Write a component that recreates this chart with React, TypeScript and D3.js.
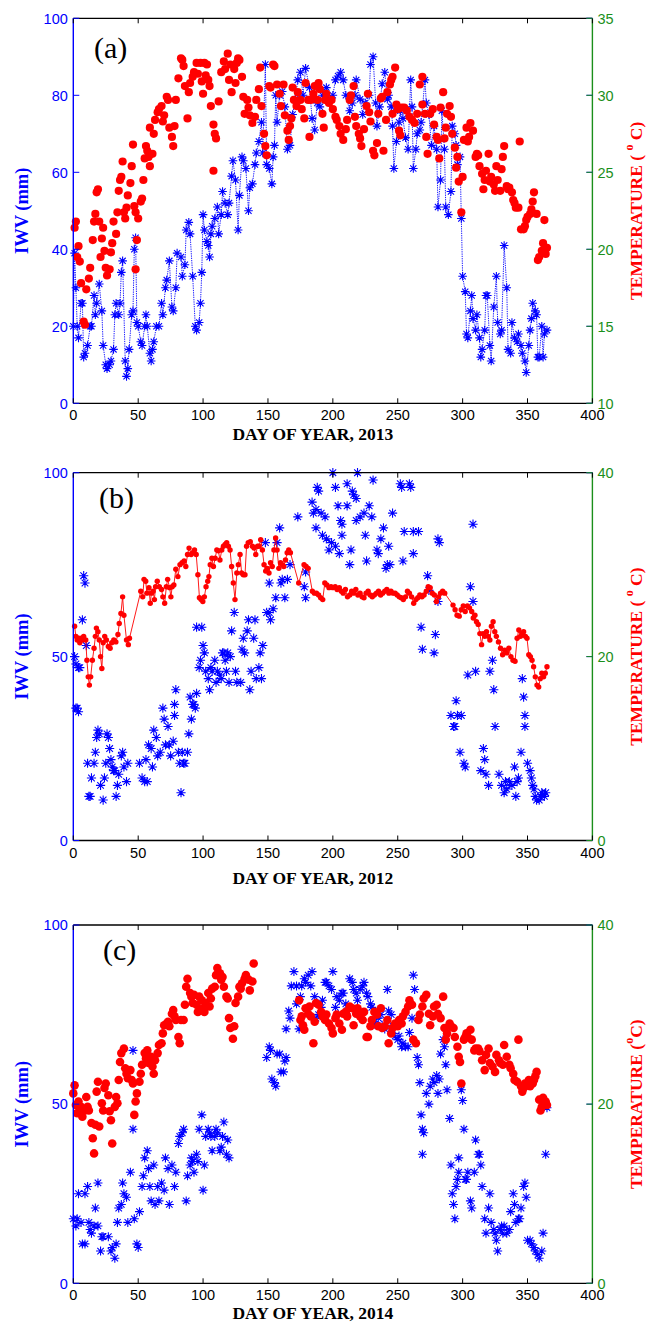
import React from 'react';
import * as d3 from 'd3';

type Pt = [number, number];

// x axis (day of year), shared by the three panels
const dayTicks = [0, 50, 100, 150, 200, 250, 300, 350, 400];

// panel (a) 2013 -- IWV (mm), day / value
const iwv2013: Pt[] = [
  [0,20],[1,39],[2,30],[3,20],[4,17],[6,26],[7,26],[8,12],[9,13],[11,15],[13,20],[14,20],[16,28],[17,23],[18,26],[20,31],
  [22,24],[23,15],[25,10],[26,9],[28,10],[29,11],[31,14],[32,23],[33,26],[35,23],[36,26],[37,34],[38,37],[40,11],[41,7],
  [42,9],[43,14],[45,23],[46,24],[47,40],[48,43],[49,21],[50,20],[52,16],[53,15],[55,20],[56,23],[57,20],[59,13],[60,11],
  [61,14],[62,16],[64,20],[66,20],[68,26],[69,23],[71,30],[72,32],[74,37],[76,25],[77,24],[79,30],[80,39],[83,38],[84,33],
  [86,36],[87,45],[89,47],[90,44],[92,33],[94,20],[95,19],[97,21],[98,26],[99,34],[100,49],[101,45],[103,42],[104,41],
  [105,38],[106,44],[107,46],[109,48],[111,51],[112,44],[114,49],[115,55],[117,52],[119,49],[120,52],[122,59],[123,63],
  [125,58],[127,45],[128,54],[130,64],[131,63],[133,61],[135,50],[136,56],[138,57],[140,62],[141,65],[143,68],[145,73],
  [146,65],[148,88],[149,62],[151,61],[153,57],[154,64],[155,67],[156,80],[157,73],[159,80],[161,81],[163,77],[165,66],
  [167,67],[169,75],[171,79],[173,84],[175,86],[177,80],[179,87],[182,82],[184,74],[186,71],[188,78],[190,77],[192,80],
  [195,82],[198,79],[200,80],[202,84],[204,85],[206,86],[208,84],[210,80],[213,76],[215,78],[217,80],[218,84],[221,79],
  [223,75],[225,78],[228,80],[229,88],[231,90],[233,78],[234,72],[236,77],[238,83],[240,86],[242,79],[243,80],[245,77],
  [246,72],[247,61],[249,68],[251,73],[252,76],[254,74],[256,69],[258,66],[260,84],[261,77],[262,61],[264,66],[265,70],
  [267,71],[268,73],[271,84],[272,78],[274,75],[276,67],[278,72],[280,66],[281,51],[283,58],[284,76],[286,66],[287,51],
  [289,49],[291,55],[292,72],[294,70],[295,67],[296,62],[298,64],[299,48],[300,33],[302,29],[303,18],[304,17],[306,24],
  [307,28],[308,22],[310,19],[311,23],[313,17],[314,12],[315,14],[317,19],[318,28],[319,28],[321,15],[322,11],[324,25],
  [326,33],[327,21],[329,18],[330,19],[332,41],[334,30],[335,14],[337,13],[338,21],[340,17],[342,16],[343,18],[345,15],
  [346,13],[348,11],[349,8],[351,15],[352,19],[353,22],[354,26],[356,24],[357,23],[358,12],[359,12],[361,20],[362,12],
  [363,18],[365,19],
];

// panel (a) 2013 -- temperature (deg C)
const temp2013: Pt[] = [
  [1,21.4],[2,21.8],[3,19.5],[4,20.2],[5,19.2],[6,17.8],[8,15.3],[9,15.1],[10,17.4],[12,18.1],[13,18.8],[15,20.6],[16,21.8],
  [17,22.3],[18,23.7],[19,23.9],[20,21.8],[21,19.5],[22,20.7],[23,21.4],[24,19.9],[25,18.8],[26,18.3],[28,18.7],[29,19.8],
  [30,20.4],[31,21.8],[33,21.0],[34,22.4],[35,23.8],[36,24.5],[37,24.7],[38,25.7],[39,22.4],[40,22.0],[41,22.7],[42,23.5],
  [44,24.3],[45,25.4],[46,26.8],[47,22.8],[48,22.4],[49,20.6],[48,18.7],[50,22.0],[52,23.1],[53,23.3],[54,24.5],[55,25.9],
  [56,26.7],[57,26.4],[58,26.0],[59,25.4],[59,27.9],[61,26.2],[62,27.5],[63,28.4],[65,28.9],[66,29.1],[68,29.3],[69,28.3],
  [70,28.7],[72,29.9],[73,29.7],[74,27.9],[76,27.3],[77,26.7],[78,28.0],[79,29.7],[81,31.1],[83,32.4],[84,32.3],[85,31.9],
  [86,30.6],[88,28.5],[89,30.2],[90,30.8],[92,31.2],[93,31.5],[95,32.1],[96,31.4],[98,32.1],[99,30.9],[100,30.1],[101,32.1],
  [102,31.3],[103,32.0],[104,31.0],[105,30.6],[106,29.3],[108,28.1],[109,27.5],[110,27.2],[108,25.1],[112,29.6],[114,31.5],
  [116,32.2],[117,31.7],[119,32.7],[120,31.0],[121,32.0],[122,30.2],[124,31.7],[125,30.8],[126,32.1],[127,32.4],[128,32.3],
  [130,31.2],[131,29.9],[132,28.8],[134,29.7],[135,29.2],[136,28.7],[138,28.2],[140,28.6],[141,29.7],[143,30.4],[144,31.8],
  [145,29.3],[147,27.5],[148,26.7],[149,26.1],[151,30.6],[152,30.5],[154,32.0],[155,31.9],[157,30.7],[159,30.1],[160,29.3],
  [162,30.7],[163,28.7],[165,27.7],[166,27.1],[167,28.0],[168,28.5],[169,30.5],[170,29.7],[172,29.3],[173,30.2],[175,29.7],
  [176,29.1],[178,28.5],[179,30.8],[181,29.7],[182,27.3],[183,29.7],[185,30.1],[186,30.6],[188,29.7],[189,30.8],[190,30.4],
  [192,28.8],[193,27.9],[194,29.7],[195,30.1],[197,29.5],[199,29.7],[200,29.1],[202,28.6],[203,28.4],[205,28.0],[206,27.5],
  [208,27.1],[210,27.8],[211,28.4],[213,29.7],[214,30.0],[216,30.6],[217,28.6],[218,28.0],[220,27.5],[221,27.2],[222,26.7],
  [224,27.8],[226,29.3],[227,30.1],[228,28.9],[229,28.3],[231,26.4],[232,26.1],[234,26.9],[235,28.8],[237,29.8],[238,29.9],
  [239,26.4],[241,28.4],[242,30.2],[244,30.7],[245,31.0],[246,31.2],[246,28.8],[248,31.8],[249,29.4],[250,29.1],[251,27.7],
  [252,27.4],[253,29.2],[255,29.2],[257,29.0],[259,28.6],[261,28.4],[263,28.2],[265,28.8],[267,30.7],[269,31.2],[269,29.4],
  [271,28.8],[272,27.3],[273,26.2],[275,28.8],[277,29.1],[278,28.1],[280,27.3],[281,27.1],[282,25.9],[283,29.2],[285,30.2],
  [286,27.2],[287,27.9],[288,28.8],[290,29.3],[291,28.6],[292,27.5],[294,26.6],[295,25.3],[296,26.0],[297,24.4],[299,22.4],
  [300,24.7],[301,27.1],[303,27.9],[304,27.0],[305,27.3],[306,28.2],[308,27.7],[310,26.0],[311,26.2],[312,26.1],[313,25.4],
  [315,24.9],[316,23.9],[317,24.5],[318,25.1],[320,26.2],[321,24.4],[322,24.7],[324,24.2],[325,23.8],[326,25.4],[327,24.5],
  [329,23.8],[330,25.2],[331,26.0],[332,26.7],[334,24.1],[335,23.9],[336,24.0],[338,23.7],[339,23.2],[340,23.0],[341,22.7],
  [343,22.7],[344,27.0],[345,21.3],[347,21.3],[348,21.5],[349,21.9],[350,22.1],[352,22.3],[353,22.6],[354,23.1],[355,23.7],
  [357,22.3],[358,19.3],[359,19.5],[361,19.9],[362,20.4],[363,21.9],[364,19.7],[365,20.1],
];

// panel (b) 2012 -- IWV (mm)
const iwv2012: Pt[] = [
  [1,50],[2,48],[4,47],[5,47],[2,36],[3,36],[4,35],[7,60],[8,72],[9,70],[10,53],[11,21],[12,12],[13,12],[14,17],[16,21],
  [17,24],[18,28],[19,30],[20,29],[21,15],[23,11],[24,17],[25,21],[26,29],[27,28],[28,25],[29,22],[30,20],[31,19],[32,19],
  [33,12],[34,15],[35,18],[37,23],[38,24],[39,20],[41,16],[42,21],[51,21],[53,17],[55,16],[56,22],[57,16],[58,26],[60,25],
  [61,20],[62,30],[64,28],[65,23],[67,24],[69,36],[70,33],[71,26],[73,31],[74,26],[75,23],[77,27],[78,37],[78,34],[79,41],
  [81,24],[82,21],[83,13],[84,24],[85,21],[86,21],[88,24],[89,29],[90,39],[91,33],[92,37],[93,37],[94,36],[95,40],[95,58],
  [99,58],[97,47],[98,49],[100,53],[101,51],[102,46],[104,44],[105,41],[106,47],[107,46],[109,49],[110,43],[111,46],[113,45],
  [114,44],[115,51],[116,51],[117,49],[118,46],[119,51],[120,43],[121,50],[122,57],[124,62],[125,46],[126,43],[129,43],
  [130,52],[131,55],[132,51],[134,57],[135,60],[136,41],[137,46],[139,55],[140,60],[141,44],[143,47],[144,51],[145,44],
  [146,53],[148,81],[149,62],[151,62],[152,60],[154,63],[151,70],[156,66],[157,81],[159,85],[160,70],[161,71],[163,66],
  [165,71],[167,75],[173,88],[178,69],[179,66],[179,73],[184,92],[185,89],[187,90],[187,85],[188,96],[189,95],[191,89],
  [192,83],[194,88],[195,82],[197,79],[199,81],[200,100],[202,96],[202,80],[204,91],[205,78],[206,87],[207,86],[207,83],
  [211,97],[211,91],[213,75],[214,79],[215,95],[216,94],[218,93],[218,87],[219,100],[221,88],[224,89],[225,83],[226,76],
  [228,91],[230,88],[231,98],[234,79],[235,78],[237,82],[239,85],[241,74],[242,75],[243,80],[244,75],[246,89],[252,97],
  [253,96],[254,76],[255,84],[259,97],[260,96],[262,78],[262,84],[266,84],[268,58],[269,52],[273,72],[274,68],[279,56],
  [278,51],[281,82],[282,81],[281,65],[291,34],[293,31],[294,31],[295,38],[296,34],[298,24],[299,34],[301,21],[302,20],
  [304,45],[306,69],[308,65],[308,86],[310,46],[314,19],[316,25],[317,22],[318,18],[320,15],[321,46],[323,49],[324,41],
  [325,31],[328,18],[330,15],[332,13],[333,16],[334,14],[336,16],[338,15],[340,20],[341,12],[342,16],[343,17],[345,24],
  [346,44],[347,39],[348,34],[348,31],[350,21],[352,19],[353,17],[354,15],[355,14],[356,12],[357,11],[359,11],[360,12],
  [361,13],[363,12],[364,13],
];

// panel (b) 2012 -- temperature (deg C), joined by a line
const temp2012: Pt[] = [
  [1,23.3],[2,22.2],[3,21.8],[4,22.0],[5,21.5],[6,22.0],[7,21.8],[8,22.2],[9.6,21.8],[10.5,19.6],[11.5,17.8],[12.4,16.9],
  [13.4,17.8],[14.7,19.6],[16,20.9],[17,22.2],[17.8,23.1],[19,22.7],[20,21.8],[21,20.0],[22,18.7],[23,21.5],[24.2,22.2],
  [25.5,21.8],[27,21.1],[28.4,20.9],[29.6,21.5],[31.2,21.8],[32.8,21.6],[34.4,22.4],[35.4,23.6],[36.7,24.7],[38,26.5],
  [39,24.5],[41,21.8],[42.4,21.3],[43.3,22.0],[52,27.1],[53.5,26.5],[54.5,28.4],[55.8,28.2],[56.7,26.9],[58.3,27.5],
  [59.3,25.8],[60.2,26.9],[61.5,27.1],[62.5,26.2],[63.4,27.6],[64.7,28.2],[66.3,27.6],[68,27.3],[69,26.5],[70.4,25.8],
  [71.7,27.6],[72.7,28.4],[74.2,27.5],[75.2,26.5],[76.2,27.6],[77.5,27.8],[79,29.5],[80.6,28.7],[82.2,30.0],[83.8,30.2],
  [85.4,30.4],[86.7,29.8],[88,31.1],[89.2,31.8],[90.8,31.1],[92,31.3],[93.4,31.6],[94.7,31.1],[96,28.9],[97.2,26.4],
  [98.5,26.2],[99.8,26.0],[101,26.5],[102.3,27.6],[103.6,28.2],[104.5,28.7],[105.5,30.0],[106.8,30.7],[108,29.8],
  [109.3,30.7],[110.6,31.6],[111.8,31.5],[113,30.5],[114.4,31.6],[115.7,32.0],[117,32.2],[118.2,32.4],[119.5,32.0],
  [120.8,31.6],[122,29.8],[123.3,28.0],[124.6,26.2],[126,29.1],[127.2,30.0],[128.5,31.1],[129.7,29.1],[131,28.9],
  [132.3,28.9],[133.5,32.0],[134.8,32.4],[136.4,32.5],[138,32.0],[139.3,31.8],[140.6,31.1],[142,32.0],[143,32.0],
  [144.4,32.7],[145.7,31.6],[147,30.0],[148.2,29.3],[149.5,29.6],[150.8,29.1],[152,30.2],[153.3,29.8],[154.6,31.6],
  [155.9,32.9],[157,31.6],[158.4,29.6],[159.7,30.2],[161,30.0],[162.2,29.8],[163.5,30.5],[164.8,31.3],[166,31.6],
  [167.3,31.3],[173.7,28.0],[177.8,30.0],[179.4,29.8],[181,29.6],[184.2,27.1],[185.8,26.9],[187.4,26.9],[189,26.7],
  [190.6,26.4],[192.2,26.2],[193.8,28.0],[195.4,27.8],[197,27.5],[198.6,27.6],[200,27.5],[201.8,27.6],[203.3,27.3],
  [205,27.5],[206.5,27.1],[208,26.9],[209.7,27.3],[211.3,26.5],[213,26.7],[214.5,27.1],[216,26.9],[217.7,27.3],
  [219.3,26.7],[221,26.9],[222.5,26.5],[224,26.4],[225.6,26.9],[227.2,27.1],[228.8,26.7],[230.4,26.5],[232,26.7],
  [233.6,26.9],[235.2,27.1],[236.8,26.7],[238.4,26.9],[240,27.1],[241.6,27.3],[243.2,26.9],[244.8,27.1],[246.4,26.9],
  [248,26.9],[249.6,26.7],[251.2,26.5],[252.7,26.4],[254.3,26.2],[256,26.5],[257.5,27.1],[259,26.9],[260.7,26.5],
  [262.3,25.8],[264,26.2],[265.5,26.4],[267,26.7],[268.7,26.5],[270.3,26.7],[272,27.1],[273.5,27.6],[275,27.5],
  [276.6,26.9],[278.2,26.7],[279.8,26.0],[281.4,26.5],[283,26.9],[284.6,27.1],[286.2,26.9],[292.6,25.6],[294.2,25.1],
  [295.7,24.5],[297.4,24.4],[298.9,25.1],[300.5,25.5],[302,24.9],[303.7,25.5],[305.3,25.3],[307,24.9],[308.2,24.2],
  [309.5,24.5],[310.7,23.8],[312,23.5],[313.3,22.5],[314.6,21.3],[315.8,22.5],[317,22.2],[318.4,22.7],[319.7,22.2],
  [321,21.8],[322.2,23.3],[323.5,23.8],[324.8,22.7],[326,22.2],[327.6,21.6],[329.2,20.9],[330.8,20.2],[332.4,20.7],
  [334,20.4],[335.6,20.9],[337.2,20.0],[338.8,19.6],[340.4,19.5],[342,22.0],[343.3,22.9],[344.6,22.2],[345.8,22.5],
  [347,22.7],[348.4,22.2],[349.6,22.0],[351,20.2],[352.2,20.0],[353.5,19.6],[354.7,18.9],[356,17.8],[357.3,16.9],
  [358.6,16.7],[359.8,17.6],[361,18.2],[362.4,17.8],[363.7,18.2],[365,18.9],
];

// panel (c) 2014 -- IWV (mm)
const iwv2014: Pt[] = [
  [0,18],[2,16],[3,18],[4,25],[6,17],[7,11],[9,11],[9,25],[11,27],[12,17],[13,15],[14,14],[16,16],[17,21],[19,28],[19,16],
  [21,9],[22,13],[23,13],[27,13],[29,9],[30,10],[32,7],[33,11],[34,17],[35,21],[37,22],[38,28],[39,25],[41,24],[42,17],
  [44,31],[46,43],[46,65],[47,18],[49,11],[50,10],[51,20],[53,27],[54,30],[55,35],[57,37],[58,32],[59,27],[60,23],[62,33],
  [63,22],[65,27],[66,23],[68,28],[70,26],[71,35],[73,32],[74,22],[76,33],[78,27],[79,31],[81,39],[82,41],[84,42],[85,43],
  [87,23],[88,30],[90,33],[91,35],[92,34],[93,31],[95,36],[96,34],[97,43],[99,47],[100,26],[101,33],[102,41],[104,43],
  [105,42],[106,41],[107,37],[109,41],[110,43],[111,42],[113,37],[114,38],[115,41],[116,45],[118,36],[119,40],[120,35],
  [149,63],[151,66],[152,65],[153,57],[155,56],[156,55],[157,64],[159,64],[160,59],[162,59],[163,62],[164,63],[164,71],
  [166,76],[167,74],[168,83],[170,87],[172,83],[172,78],[174,71],[175,80],[176,83],[178,85],[179,84],[181,86],[183,83],
  [184,87],[186,80],[187,74],[189,75],[191,77],[192,79],[194,84],[195,84],[197,83],[199,82],[200,87],[202,77],[203,80],
  [205,79],[207,81],[208,81],[210,78],[211,76],[213,85],[215,84],[216,82],[218,81],[219,79],[221,82],[223,83],[224,84],
  [226,81],[227,80],[229,78],[230,77],[232,73],[234,72],[235,74],[237,75],[238,72],[240,71],[242,82],[243,76],[245,75],
  [246,72],[248,69],[250,68],[251,69],[253,66],[254,67],[256,66],[258,66],[259,70],[261,74],[262,86],[263,82],[265,63],
  [266,61],[267,56],[268,47],[269,43],[270,42],[269,36],[272,53],[274,50],[275,55],[277,57],[278,56],[280,58],[281,53],
  [282,57],[283,64],[285,68],[286,66],[287,61],[288,54],[290,46],[291,33],[292,25],[293,22],[294,18],[295,27],[296,29],
  [297,31],[299,54],[300,51],[301,43],[297,35],[302,29],[303,29],[304,31],[306,23],[307,21],[309,31],[310,40],[312,36],
  [313,36],[314,33],[315,27],[317,18],[318,14],[320,21],[321,25],[322,17],[324,15],[325,14],[326,12],[327,9],[329,15],
  [330,16],[331,14],[332,16],[334,14],[336,15],[337,20],[339,25],[340,22],[341,17],[343,18],[344,18],[345,21],[347,27],
  [348,28],[349,24],[350,12],[352,12],[353,11],[355,10],[356,9],[358,8],[359,7],[361,9],[362,14],[364,36],[365,49],
];

// panel (c) 2014 -- temperature (deg C)
const temp2014: Pt[] = [
  [0,21.2],[1,22.1],[2,19.9],[3,19.0],[4,20.3],[5,19.0],[6,19.7],[7,18.6],[9,19.3],[10,20.8],[11,19.7],[12,19.3],[14,17.9],
  [15,16.2],[16,14.5],[17,17.7],[18,21.4],[19,22.5],[20,17.5],[22,20.1],[23,19.3],[24,21.8],[25,22.3],[27,21.0],[28,19.2],
  [29,18.2],[30,15.6],[32,19.7],[33,20.8],[34,20.1],[35,22.7],[36,24.7],[37,25.7],[39,26.2],[40,24.0],[41,23.4],[42,22.9],
  [44,23.8],[45,22.7],[46,22.3],[47,18.8],[48,20.3],[49,21.2],[51,22.5],[52,23.4],[53,24.4],[55,25.7],[56,25.1],[57,26.0],
  [58,24.6],[60,25.3],[61,24.2],[62,23.4],[63,24.9],[65,25.7],[66,26.6],[68,26.8],[69,27.9],[70,28.8],[72,29.0],[73,29.2],
  [74,28.7],[76,30.1],[77,30.5],[78,29.8],[79,29.4],[81,27.5],[82,26.8],[83,29.4],[85,29.4],[86,31.1],[87,33.1],[88,34.0],
  [90,32.4],[91,32.0],[92,31.3],[93,32.2],[95,31.1],[96,30.3],[97,32.0],[99,31.6],[100,30.7],[101,30.3],[102,31.3],
  [104,32.4],[105,30.9],[106,31.8],[107,32.9],[109,33.1],[110,34.4],[111,35.2],[113,34.6],[114,33.9],[115,34.2],[116,33.1],
  [118,32.0],[119,31.8],[120,29.6],[121,28.5],[123,27.3],[124,28.7],[125,31.3],[127,32.0],[128,33.1],[129,32.9],[130,33.5],
  [132,34.0],[133,34.4],[135,33.9],[136,32.7],[138,33.7],[139,35.7],[174,31.6],[175,29.4],[176,29.8],[177,28.8],[178,28.3],
  [179,30.7],[181,30.1],[182,30.9],[183,29.8],[185,26.8],[186,29.2],[187,31.3],[189,31.1],[191,30.3],[192,29.8],[194,29.4],
  [195,30.0],[197,29.0],[199,28.5],[200,27.9],[202,29.6],[203,30.0],[205,29.0],[207,28.3],[208,30.1],[210,30.3],[211,29.8],
  [213,30.9],[215,30.7],[216,28.8],[218,30.1],[219,30.7],[221,29.8],[223,29.4],[224,30.3],[226,27.5],[227,27.5],[229,28.7],
  [230,29.4],[232,30.3],[234,30.0],[235,28.7],[237,30.7],[238,28.5],[240,28.7],[242,29.4],[243,26.8],[245,27.9],[246,28.5],
  [248,29.0],[250,28.7],[251,29.4],[253,29.0],[254,29.8],[256,30.3],[258,30.9],[259,31.6],[261,31.1],[262,27.2],[264,26.8],
  [266,29.4],[267,30.0],[269,30.9],[270,31.8],[272,32.2],[274,30.1],[275,28.8],[277,29.8],[278,30.9],[280,31.1],[281,30.1],
  [283,29.6],[285,32.0],[286,28.5],[287,27.2],[288,27.9],[290,29.0],[291,28.7],[293,28.5],[294,27.5],[296,26.4],[297,25.3],
  [298,24.7],[299,22.3],[301,27.2],[302,27.5],[303,27.9],[304,27.5],[306,28.3],[307,27.2],[309,26.0],[310,26.2],[312,26.2],
  [313,25.9],[315,24.9],[317,23.8],[318,25.5],[320,26.2],[321,24.6],[323,24.2],[325,23.6],[326,25.5],[328,24.9],[329,24.6],
  [331,24.4],[332,26.6],[334,25.3],[336,24.4],[337,24.0],[339,23.4],[340,22.7],[342,22.5],[343,27.2],[345,22.0],[346,21.4],
  [347,21.8],[348,22.3],[350,22.1],[351,22.7],[352,22.0],[354,22.3],[355,22.7],[356,23.1],[357,23.6],[359,20.5],[360,19.3],
  [361,19.7],[362,20.7],[364,20.3],[365,19.9],
];

const iwvTicksA = [0, 20, 40, 60, 80, 100];
const tempTicksA = [10, 15, 20, 25, 30, 35];
const iwvTicksBC = [0, 50, 100];
const tempTicksBC = [0, 20, 40];

const BLUE = '#0000ff';
const RED = '#ff0000';
const GREEN = '#1b8f1b';
const SERIF = '"Liberation Serif", "Times New Roman", serif';
const SANS = '"Liberation Sans", Arial, sans-serif';

const X0 = 73.3;
const X1 = 592.4;

const panels = [
  {
    id: 'a', label: '(a)', year: '2013', top: 18.3, bottom: 403.3,
    iwv: iwv2013, temp: temp2013, iwvTicks: iwvTicksA, tempTicks: tempTicksA, tempDomain: [10, 35],
    iwvLine: true, tempLine: false, dotR: 4.1, starR: 4.3, labelX: 94, labelY: 58, titleY: 440, degSpace: true,
  },
  {
    id: 'b', label: '(b)', year: '2012', top: 472.7, bottom: 840.5,
    iwv: iwv2012, temp: temp2012, iwvTicks: iwvTicksBC, tempTicks: tempTicksBC, tempDomain: [0, 40],
    iwvLine: false, tempLine: true, dotR: 2.7, starR: 4.6, labelX: 99, labelY: 508, titleY: 884, degSpace: true,
  },
  {
    id: 'c', label: '(c)', year: '2014', top: 925, bottom: 1283.3,
    iwv: iwv2014, temp: temp2014, iwvTicks: iwvTicksBC, tempTicks: tempTicksBC, tempDomain: [0, 40],
    iwvLine: false, tempLine: false, dotR: 4.3, starR: 4.5, labelX: 103, labelY: 960, titleY: 1319, degSpace: false,
  },
];

// MATLAB style '*' marker
const star = (x: number, y: number, r: number) => {
  const d = r * 0.72;
  return `M${x - r},${y}H${x + r}M${x},${y - r}V${y + r}M${x - d},${y - d}L${x + d},${y + d}M${x - d},${y + d}L${x + d},${y - d}`;
};

const Panel = ({ p }: { p: typeof panels[number] }) => {
  const x = d3.scaleLinear().domain([0, 400]).range([X0, X1]);
  const yL = d3.scaleLinear().domain([0, 100]).range([p.bottom, p.top]);
  const yR = d3.scaleLinear().domain(p.tempDomain).range([p.bottom, p.top]);
  const midY = (p.top + p.bottom) / 2;
  const tk = 5;

  const iwvPath = d3.line<Pt>().x(d => x(d[0])).y(d => yL(d[1]))(p.iwv) || '';
  const tempPath = d3.line<Pt>().x(d => x(d[0])).y(d => yR(d[1]))(p.temp) || '';
  const stars = p.iwv.map(d => star(x(d[0]), yL(d[1]), p.starR)).join('');

  return (
    <g>
      {/* data */}
      {p.iwvLine && (
        <path d={iwvPath} fill="none" stroke={BLUE} strokeWidth={0.9} strokeDasharray="1.3 1" />
      )}
      <path d={stars} fill="none" stroke={BLUE} strokeWidth={1.1} />
      {p.tempLine && <path d={tempPath} fill="none" stroke={RED} strokeWidth={0.9} />}
      {p.temp.map((d, i) => (
        <circle key={i} cx={x(d[0])} cy={yR(d[1])} r={p.dotR} fill={RED} />
      ))}

      {/* box */}
      <line x1={X0} x2={X1} y1={p.top} y2={p.top} stroke="#000" strokeWidth={1.3} />
      <line x1={X0} x2={X1} y1={p.bottom} y2={p.bottom} stroke="#000" strokeWidth={1.3} />
      <line x1={X0} x2={X0} y1={p.top} y2={p.bottom} stroke={BLUE} strokeWidth={1.4} />
      <line x1={X1} x2={X1} y1={p.top} y2={p.bottom} stroke={GREEN} strokeWidth={1.4} />

      {/* x ticks */}
      {dayTicks.map(t => (
        <g key={t}>
          <line x1={x(t)} x2={x(t)} y1={p.bottom} y2={p.bottom - tk} stroke="#000" strokeWidth={1} />
          <line x1={x(t)} x2={x(t)} y1={p.top} y2={p.top + tk} stroke="#000" strokeWidth={1} />
          <text x={x(t)} y={p.bottom + 17} textAnchor="middle" fontFamily={SANS} fontSize={14.5} fill="#000">
            {t}
          </text>
        </g>
      ))}

      {/* left axis */}
      {p.iwvTicks.map(t => (
        <g key={t}>
          <line x1={X0} x2={X0 + 6} y1={yL(t)} y2={yL(t)} stroke={BLUE} strokeWidth={1} />
          <line x1={X1} x2={X1 - 6} y1={yL(t)} y2={yL(t)} stroke={BLUE} strokeWidth={1} />
          <text x={X0 - 5.5} y={yL(t)} dy="0.36em" textAnchor="end" fontFamily={SANS} fontSize={14.5} fill={BLUE}>
            {t}
          </text>
        </g>
      ))}

      {/* right axis */}
      {p.tempTicks.map(t => (
        <g key={t}>
          <line x1={X1} x2={X1 - 6} y1={yR(t)} y2={yR(t)} stroke={GREEN} strokeWidth={1} />
          <text x={X1 + 5} y={yR(t)} dy="0.36em" textAnchor="start" fontFamily={SANS} fontSize={14.5} fill={GREEN}>
            {t}
          </text>
        </g>
      ))}

      {/* titles */}
      <text x={p.labelX} y={p.labelY} fontFamily={SERIF} fontSize={30} fill="#000">
        {p.label}
      </text>
      <text x={(X0 + X1) / 2 - 20} y={p.titleY} textAnchor="middle" fontFamily={SERIF} fontWeight="bold" fontSize={17.5} fill="#000">
        {`DAY OF YEAR, ${p.year}`}
      </text>
      <text
        transform={`translate(22,${midY}) rotate(-90)`}
        textAnchor="middle"
        dominantBaseline="central"
        fontFamily={SERIF}
        fontWeight="bold"
        fontSize={18.5}
        fill={BLUE}
      >
        IWV (mm)
      </text>
      <text
        transform={`translate(636,${midY}) rotate(-90)`}
        textAnchor="middle"
        dominantBaseline="central"
        fontFamily={SERIF}
        fontWeight="bold"
        fontSize={17.5}
        fill={RED}
      >
        {p.degSpace ? 'TEMPERATURE ( ' : 'TEMPERATURE ('}
        <tspan dy={-7} fontSize={12}>o</tspan>
        <tspan dy={7}>{p.degSpace ? ' C)' : 'C)'}</tspan>
      </text>
    </g>
  );
};

export default function App() {
  return (
    <svg
      width={649}
      height={1324}
      viewBox="0 0 649 1324"
      style={{ position: 'absolute', left: 0, top: 0, display: 'block', background: '#fff' }}
    >
      <rect width={649} height={1324} fill="#fff" />
      {panels.map(p => (
        <Panel key={p.id} p={p} />
      ))}
    </svg>
  );
}
